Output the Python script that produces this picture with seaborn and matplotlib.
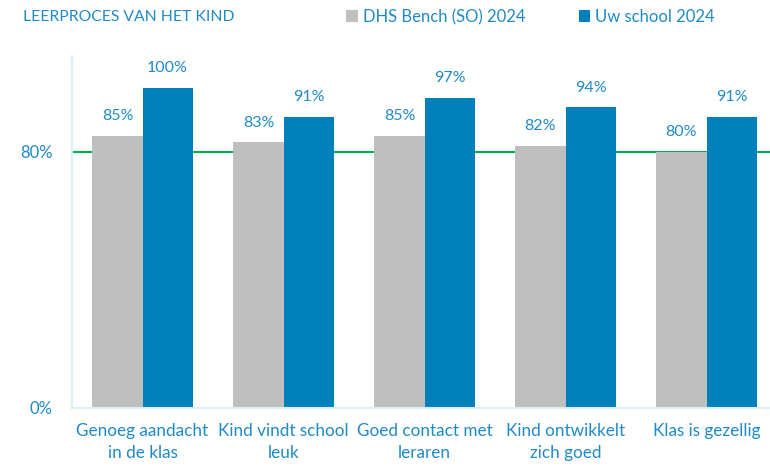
import matplotlib
matplotlib.use('Agg')
import matplotlib.pyplot as plt
import seaborn as sns
import pandas as pd

categories = ['Genoeg aandacht\nin de klas', 'Kind vindt school\nleuk', 'Goed contact met\nleraren',
              'Kind ontwikkelt\nzich goed', 'Klas is gezellig']
bench = [85, 83, 85, 82, 80]
school = [100, 91, 97, 94, 91]
series = ['DHS Bench (SO) 2024', 'Uw school 2024']
norm = 80

txt = '#1F8AC8'
grey = '#BFBFBF'
blue = '#0080BA'

df = pd.DataFrame({
    'cat': categories * 2,
    'val': bench + school,
    'serie': [series[0]] * 5 + [series[1]] * 5,
})

sns.set_style('white')
plt.rcParams['font.family'] = ['Lato', 'DejaVu Sans']

fig = plt.figure(figsize=(7.7, 4.67), dpi=100)
ax = fig.add_axes([72 / 770, 59 / 467, 705 / 770, 352 / 467])

sns.barplot(data=df, x='cat', y='val', hue='serie', palette=[grey, blue],
            width=0.71, saturation=1, linewidth=0, ax=ax, zorder=2)

for c in ax.containers:
    ax.bar_label(c, fmt='%d%%', padding=9, color=txt, fontsize=11.5)

ax.axhline(norm, color='#00B050', linewidth=1.5, zorder=1)

ax.set_ylim(0, 110)
ax.set_yticks([0, 80])
ax.set_yticklabels(['0%', '80%'])
ax.set_xlabel('')
ax.set_ylabel('')
ax.tick_params(axis='y', colors='#DAEEF3', labelcolor=txt, labelsize=12, length=5, width=1, pad=9)
ax.tick_params(axis='x', length=0, labelcolor=txt, labelsize=12.3, pad=11)
for lbl in ax.get_xticklabels():
    lbl.set_linespacing(1.45)
for s in ['top', 'right']:
    ax.spines[s].set_visible(False)
for s in ['left', 'bottom']:
    ax.spines[s].set_color('#DAEEF3')
    ax.spines[s].set_linewidth(1.5)

sns.move_legend(ax, 'center left', bbox_to_anchor=(331 / 770, 1 - 17 / 467),
                bbox_transform=fig.transFigure, ncol=2, frameon=False, title=None,
                handlelength=0.7, handleheight=0.7, handletextpad=0.3, columnspacing=3.2,
                fontsize=12, labelcolor=txt)

fig.text(23 / 770, 1 - 17 / 467, 'LEERPROCES VAN HET KIND', color=txt, fontsize=11.3, va='center')

fig.savefig('out.png', dpi=100)
